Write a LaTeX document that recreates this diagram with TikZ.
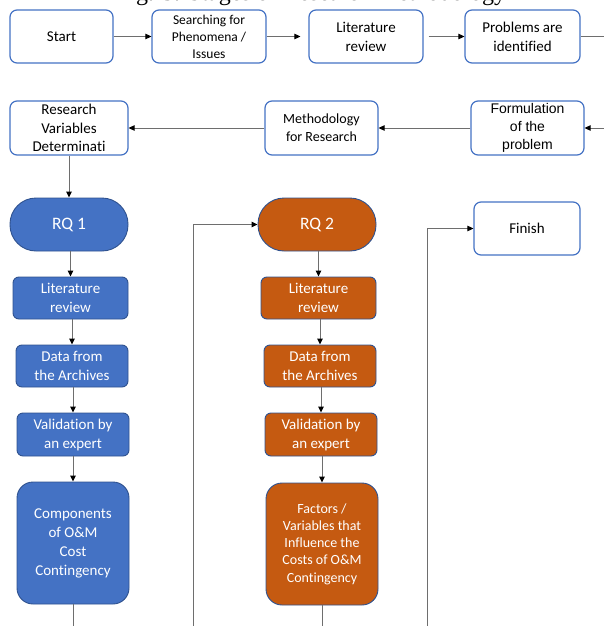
\documentclass[tikz,border=0pt]{standalone}
\usepackage{fontspec}
\setmainfont{Carlito}[Ligatures=NoCommon]
\newfontfamily\arialfont{Liberation Sans}
\newfontfamily\timesfont{Liberation Serif}
\usetikzlibrary{arrows.meta}
\definecolor{boxblue}{HTML}{4472C4}
\definecolor{lineblue}{HTML}{2F528F}
\definecolor{boxorange}{HTML}{C55A11}
\definecolor{wiregray}{HTML}{6E6E6E}
\begin{document}
\begin{tikzpicture}[x=1pt,y=-1pt,line join=round,>={Triangle[length=6pt,width=5.5pt,color=black]}]
	\tikzset{whitebox/.style={draw=boxblue,line width=1.2pt,fill=white,rounded corners=7pt,align=center,inner sep=0pt,font=\fontsize{15}{19}\selectfont},
		bluebox/.style={draw=lineblue,line width=0.9pt,fill=boxblue,text=white,rounded corners=6pt,align=center,inner sep=0pt,font=\fontsize{15}{19}\selectfont},
		orangebox/.style={bluebox,fill=boxorange},
		link/.style={draw=wiregray,line width=1pt}}
	\useasboundingbox (0,0) rectangle (604,626);
	\begin{scope}
		\clip (0,0) rectangle (604,626);
		\node[anchor=base west,inner sep=0pt,font=\timesfont\fontsize{24}{28}\selectfont] (title) at (116,0.5) {Fig. 3. Stages of Research Methodology};
	\end{scope}
	\node[whitebox,minimum width=103pt,minimum height=53pt] (start) at (61.5,36.5) {Start};
	\node[whitebox,minimum width=114pt,minimum height=53pt,font=\fontsize{13.5}{17}\selectfont] (search) at (209,36.5) {Searching for\\Phenomena /\\Issues};
	\node[whitebox,minimum width=114pt,minimum height=53pt] (lita) at (366,36.5) {Literature\\review};
	\node[whitebox,minimum width=115pt,minimum height=53pt] (prob) at (522.5,36.5) {Problems are\\identified};
	\node[whitebox,minimum width=118pt,minimum height=54pt,font=\fontsize{15}{18.5}\selectfont] (resvar) at (69,128) {Research\\Variables\\Determinati};
	\node[whitebox,minimum width=113pt,minimum height=54pt,font=\fontsize{14}{18}\selectfont] (method) at (321.5,128) {Methodology\\for Research};
	\node[whitebox,minimum width=113pt,minimum height=54pt,font=\arialfont\fontsize{14}{18}\selectfont] (formul) at (527.5,128) {Formulation\\of the\\problem};
	\node[whitebox,minimum width=106pt,minimum height=53pt] (finish) at (527,228.5) {Finish};
	\node[bluebox,minimum width=118pt,minimum height=53pt,rounded corners=26pt,font=\fontsize{17.5}{20}\selectfont] (rq1) at (69,224.5) {RQ 1};
	\node[bluebox,minimum width=115pt,minimum height=42pt] (litb) at (70.5,298) {Literature\\review};
	\node[bluebox,minimum width=112pt,minimum height=42pt] (datab) at (72,366) {Data from\\the Archives};
	\node[bluebox,minimum width=112pt,minimum height=43pt] (valb) at (73,434.5) {Validation by\\an expert};
	\node[bluebox,minimum width=112pt,minimum height=122pt,rounded corners=16pt] (compb) at (73,543) {Components\\of O\&M\\Cost\\Contingency};
	\node[orangebox,minimum width=118pt,minimum height=53pt,rounded corners=26pt,font=\fontsize{17.5}{20}\selectfont] (rq2) at (317,224.5) {RQ 2};
	\node[orangebox,minimum width=115pt,minimum height=42pt] (lito) at (318.5,298) {Literature\\review};
	\node[orangebox,minimum width=112pt,minimum height=42pt] (datao) at (320,366) {Data from\\the Archives};
	\node[orangebox,minimum width=112pt,minimum height=43pt] (valo) at (321,434.5) {Validation by\\an expert};
	\node[orangebox,minimum width=112pt,minimum height=122pt,rounded corners=16pt,font=\fontsize{14}{17.3}\selectfont] (facto) at (322,544) {Factors /\\Variables that\\Influence the\\Costs of O\&M\\Contingency};
	\coordinate (outa) at (604,36.5);
	\coordinate (inb) at (604,128);
	\coordinate (downa) at (73,626);
	\coordinate (downb) at (322,626);
	\coordinate (loopa) at (193,626);
	\coordinate (loopb) at (427,626);
	\draw[link,->] (start) -- (search);
	\draw[link,->,shorten >=8pt] (search) -- (lita);
	\draw[link,->,shorten <=5pt] (lita) -- (prob);
	\draw[link] (prob) -- (outa);
	\draw[link,->] (inb) -- (formul);
	\draw[link,->] (formul) -- (method);
	\draw[link,->] (method) -- (resvar);
	\draw[link,->] (resvar) -- (rq1);
	\foreach \a/\b in {rq1/litb,litb/datab,datab/valb,valb/compb,rq2/lito,lito/datao,datao/valo,valo/facto}
	\draw[link,->] (\b.north |- \a.south) -- (\b.north);
	\draw[link] (compb) -- (downa);
	\draw[link] (facto) -- (downb);
	\draw[link,->] (loopa) |- (rq2);
	\draw[link,->] (loopb) |- (finish);
\end{tikzpicture}
\end{document}
